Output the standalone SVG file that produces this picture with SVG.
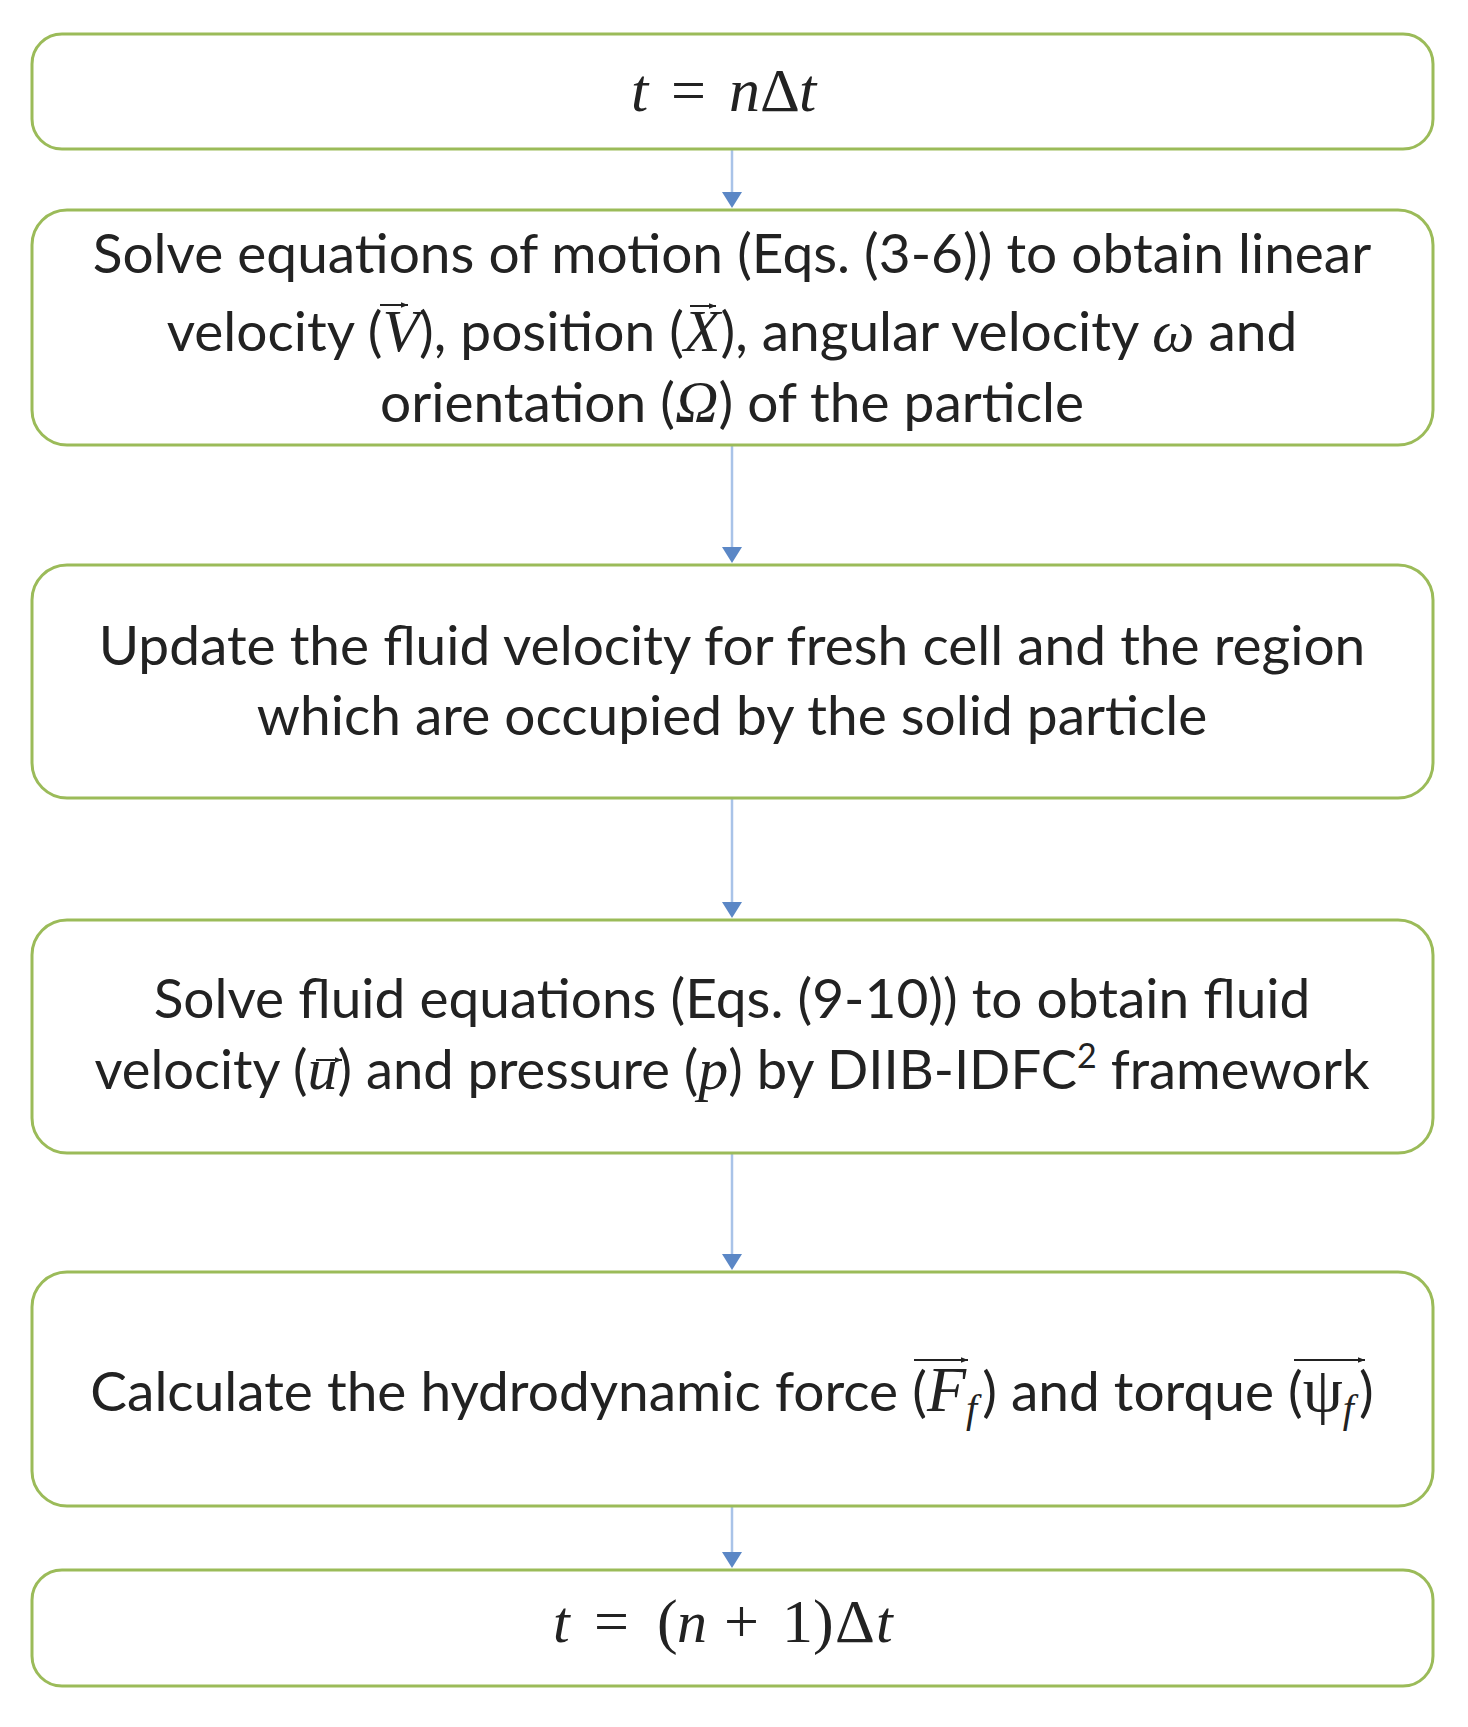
<svg xmlns="http://www.w3.org/2000/svg" width="1468" height="1727" viewBox="0 0 1468 1727">
<style>
  .box { fill: #ffffff; stroke: #9bbb59; stroke-width: 3; }
  .t { font-family: Lato, "Open Sans", "Liberation Sans", sans-serif; font-size: 55px; fill: #222222; text-anchor: middle; }
  .m { font-family: "Liberation Serif", "DejaVu Serif", serif; font-style: italic; font-size: 60px; }
  .mu { font-family: "Liberation Serif", "DejaVu Serif", serif; font-style: normal; font-size: 60px; }
  .sub { font-family: "Liberation Serif", "DejaVu Serif", serif; font-style: italic; font-size: 40px; }
  .eq { font-family: "Liberation Serif", "DejaVu Serif", serif; font-size: 62px; fill: #222222; }
  .conn { stroke: #a9c3e8; stroke-width: 2.5; fill: none; }
  .head { fill: #5b87c6; }
  .vec { stroke: #222222; stroke-width: 2; fill: none; }
</style>
<defs>
  <marker id="ah" viewBox="0 0 10 10" refX="10" refY="5" markerWidth="7" markerHeight="7" markerUnits="userSpaceOnUse" orient="auto">
    <path d="M0,1 L10,5 L0,9 Z" fill="#222222"/>
  </marker>
</defs>
<rect width="1468" height="1727" fill="#ffffff"/>

<g id="connectors">
  <line class="conn" x1="732" y1="149" x2="732" y2="194"/>
  <path class="head" d="M722,192 L742,192 L732,208 Z"/>
  <line class="conn" x1="732" y1="445" x2="732" y2="549"/>
  <path class="head" d="M722,547 L742,547 L732,563 Z"/>
  <line class="conn" x1="732" y1="798" x2="732" y2="904"/>
  <path class="head" d="M722,902 L742,902 L732,918 Z"/>
  <line class="conn" x1="732" y1="1153" x2="732" y2="1256"/>
  <path class="head" d="M722,1254 L742,1254 L732,1270 Z"/>
  <line class="conn" x1="732" y1="1506" x2="732" y2="1554"/>
  <path class="head" d="M722,1552 L742,1552 L732,1568 Z"/>
</g>

<g id="node1">
  <rect class="box" x="32" y="34" width="1401" height="115" rx="30"/>
  <text class="eq" y="111"><tspan class="m" style="font-size:62px" x="631">t</tspan><tspan x="671">=</tspan><tspan class="m" style="font-size:62px" x="729">n</tspan><tspan x="760">Δ</tspan><tspan class="m" style="font-size:62px" x="799">t</tspan></text>
</g>

<g id="node2">
  <rect class="box" x="32" y="210" width="1401" height="235" rx="35"/>
  <text class="t" x="732" y="273">Solve equations of motion (Eqs. (3-6)) to obtain linear</text>
  <text class="t" x="732" y="351">velocity (<tspan class="m">V</tspan>), position (<tspan class="m">X</tspan>), angular velocity <tspan class="m">ω</tspan> and</text>
  <text class="t" x="732" y="422">orientation (<tspan class="m">Ω</tspan>) of the particle</text>
  <line class="vec" x1="380" y1="305" x2="408" y2="305" marker-end="url(#ah)"/>
  <line class="vec" x1="690" y1="306" x2="716" y2="306" marker-end="url(#ah)"/>
</g>

<g id="node3">
  <rect class="box" x="32" y="565" width="1401" height="233" rx="35"/>
  <text class="t" x="732" y="665">Update the fluid velocity for fresh cell and the region</text>
  <text class="t" x="732" y="735">which are occupied by the solid particle</text>
</g>

<g id="node4">
  <rect class="box" x="32" y="920" width="1401" height="233" rx="35"/>
  <text class="t" x="732" y="1018">Solve fluid equations (Eqs. (9-10)) to obtain fluid</text>
  <text class="t" x="732" y="1089" style="font-size:54.3px">velocity (<tspan class="m">u</tspan>) and pressure (<tspan class="m">p</tspan>) by DIIB-IDFC<tspan style="font-size:34px" dy="-21">2</tspan><tspan dy="21"> framework</tspan></text>
  <line class="vec" x1="316" y1="1060" x2="342" y2="1060" marker-end="url(#ah)"/>
</g>

<g id="node5">
  <rect class="box" x="32" y="1272" width="1401" height="234" rx="35"/>
  <text class="t" x="732" y="1411">Calculate the hydrodynamic force (<tspan class="m" style="font-size:64px">F</tspan><tspan class="sub" dy="11">f</tspan><tspan dy="-11" dx="5">) and torque (</tspan><tspan class="mu" style="font-size:64px">ψ</tspan><tspan class="sub" dy="11">f</tspan><tspan dy="-11" dx="5">)</tspan></text>
  <line class="vec" x1="914" y1="1360" x2="968" y2="1360" marker-end="url(#ah)"/>
  <line class="vec" x1="1294" y1="1360" x2="1365" y2="1360" marker-end="url(#ah)"/>
</g>

<g id="node6">
  <rect class="box" x="32" y="1570" width="1401" height="116" rx="30"/>
  <text class="eq" y="1642"><tspan class="m" x="553">t</tspan><tspan x="594">=</tspan><tspan x="657">(</tspan><tspan class="m" x="677">n</tspan><tspan x="724">+</tspan><tspan x="782">1)</tspan><tspan x="835">Δ</tspan><tspan class="m" x="876">t</tspan></text>
</g>
</svg>
